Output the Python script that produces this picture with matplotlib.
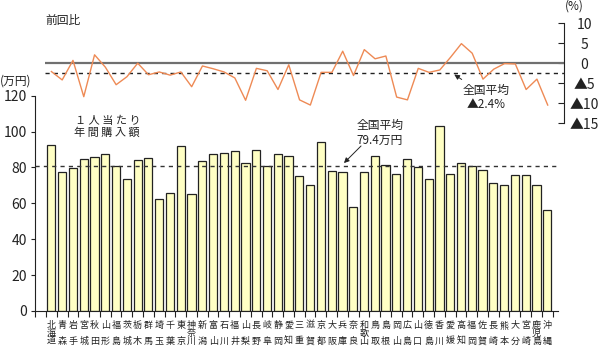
import matplotlib
matplotlib.use("Agg")
import matplotlib.pyplot as plt
import numpy as np

plt.rcParams['font.family'] = ['Noto Sans CJK JP', 'DejaVu Sans']

prefectures = ["北海道", "青森", "岩手", "宮城", "秋田", "山形", "福島", "茨城", "栃木", "群馬",
               "埼玉", "千葉", "東京", "神奈川", "新潟", "富山", "石川", "福井", "山梨", "長野",
               "岐阜", "静岡", "愛知", "三重", "滋賀", "京都", "大阪", "兵庫", "奈良", "和歌山",
               "鳥取", "島根", "岡山", "広島", "山口", "徳島", "香川", "愛媛", "高知", "福岡",
               "佐賀", "長崎", "熊本", "大分", "宮崎", "鹿児島", "沖縄"]

amounts = [92.4, 77.3, 79.5, 84.9, 85.7, 87.7, 80.8, 73.8, 84.0, 85.3,
           62.3, 65.6, 92.0, 65.2, 83.5, 87.5, 88.1, 89.4, 82.3, 89.7,
           80.8, 87.5, 86.6, 75.4, 70.0, 94.2, 77.9, 77.3, 58.1, 77.3,
           86.6, 81.2, 76.2, 84.9, 80.1, 73.8, 103.3, 76.4, 82.3, 80.6,
           78.8, 71.2, 70.2, 76.0, 76.0, 70.2, 56.5]

changes = [-2.1, -4.2, 0.7, -8.4, 2.1, -1.0, -5.4, -3.4, 0.0, -2.9,
           -2.2, -3.0, -2.2, -5.9, -0.7, -1.4, -2.2, -3.7, -9.3, -1.3,
           -1.9, -6.6, -0.4, -9.2, -10.5, -2.3, -2.3, 3.0, -3.1, 3.4,
           1.1, 1.8, -8.5, -9.2, -1.3, -2.3, -1.7, 1.5, 4.9, 2.5,
           -4.0, -1.5, -0.1, -0.2, -6.6, -4.0, -10.5]

avg_amount_line = 80.7
avg_change = -2.4

W, H = 600, 353
fig = plt.figure(figsize=(6.0, 3.53), dpi=100)


def fx(x):
    return x / W


def fy(y):
    return 1 - y / H


def stack(name):
    if len(name) == 2:
        return name[0] + "\n\u3000\n" + name[1]
    return "\n".join(name)


x = np.arange(len(prefectures))

# ---------- bottom axes (bars) ----------
ax = fig.add_axes([fx(35), fy(311), 523 / W, 215.3 / H])
ax.bar(x, amounts, width=0.76, color="#FFFFC4", edgecolor="#222222", linewidth=0.9, zorder=2)
ax.axhline(avg_amount_line, color="#333333", linestyle=(0, (3, 3)), linewidth=1.0, zorder=3)
ax.set_xlim(-1.52, 47.0)
ax.set_ylim(0, 120)
ax.set_yticks([0, 20, 40, 60, 80, 100, 120])
ax.tick_params(axis="y", direction="out", length=3, width=0.8, pad=3, labelsize=10, colors="#222222")
ax.set_xticks(x)
ax.set_xticklabels([stack(p) for p in prefectures], fontsize=6.5, linespacing=0.85, va="top")
ax.tick_params(axis="x", which="major", length=0, pad=7, colors="#222222")
ax.set_xticks(np.arange(-1.5, 47.0, 1.0), minor=True)
ax.tick_params(axis="x", which="minor", direction="out", length=4, width=0.8, color="#222222")
for s in ["top", "right"]:
    ax.spines[s].set_visible(False)
for s in ["left", "bottom"]:
    ax.spines[s].set_color("#222222")
    ax.spines[s].set_linewidth(0.8)
ax.patch.set_alpha(0)

# ---------- top axes (line) ----------
ax2 = fig.add_axes([fx(45), fy(123), 519 / W, 99.7 / H])
ax2.patch.set_alpha(0)
ax2.plot(x, changes, color="#EE8A55", linewidth=1.0, zorder=3)
ax2.axhline(0, color="#707070", linewidth=1.6, zorder=2)
ax2.axhline(avg_change, color="#222222", linestyle=(0, (3, 3)), linewidth=1.0, zorder=2)
ax2.set_xlim(-0.593, 47.51)
ax2.set_ylim(-15, 10)
for s in ["top", "left", "bottom"]:
    ax2.spines[s].set_visible(False)
ax2.spines["right"].set_color("#222222")
ax2.spines["right"].set_linewidth(0.8)
ax2.set_xticks([])
ax2.yaxis.tick_right()
ax2.set_yticks([10, 5, 0, -5, -10, -15])
ax2.set_yticklabels(["10", "5", "0", "▲5", "▲10", "▲15"])
ax2.tick_params(axis="y", direction="in", length=4, width=0.8, pad=14.4, labelsize=10, colors="#222222")
for lab in ax2.get_yticklabels():
    lab.set_horizontalalignment("center")

# ---------- texts ----------
fig.text(fx(45), fy(20), "前回比", fontsize=8.5, ha="left", va="center", color="#222222")
fig.text(fx(574), fy(6), "(%)", fontsize=8.5, ha="center", va="center", color="#222222")
fig.text(fx(16), fy(81), "(万円)", fontsize=8.5, ha="center", va="center", color="#222222")
fig.text(fx(108), fy(121), "１ 人 当 た り", fontsize=8, ha="center", va="center", color="#222222")
fig.text(fx(107), fy(133), "年 間 購 入 額", fontsize=8, ha="center", va="center", color="#222222")

fig.text(fx(380), fy(125), "全国平均", fontsize=8.5, ha="center", va="center", color="#222222")
fig.text(fx(380), fy(140), "79.4万円", fontsize=8.5, ha="center", va="center", color="#222222")
fig.text(fx(486), fy(90), "全国平均", fontsize=8.5, ha="center", va="center", color="#222222")
fig.text(fx(486), fy(104), "▲2.4%", fontsize=8.5, ha="center", va="center", color="#222222")

fig.add_artist(matplotlib.patches.FancyArrowPatch(
    (fx(363), fy(144)), (fx(342), fy(165)), transform=fig.transFigure,
    arrowstyle="-|>,head_length=3,head_width=1.5", color="#222222", linewidth=0.7))
fig.add_artist(matplotlib.patches.FancyArrowPatch(
    (fx(464), fy(81)), (fx(452), fy(73)), transform=fig.transFigure,
    arrowstyle="-|>,head_length=3,head_width=1.5", color="#222222", linewidth=0.7))

fig.savefig("out.png", dpi=100)
